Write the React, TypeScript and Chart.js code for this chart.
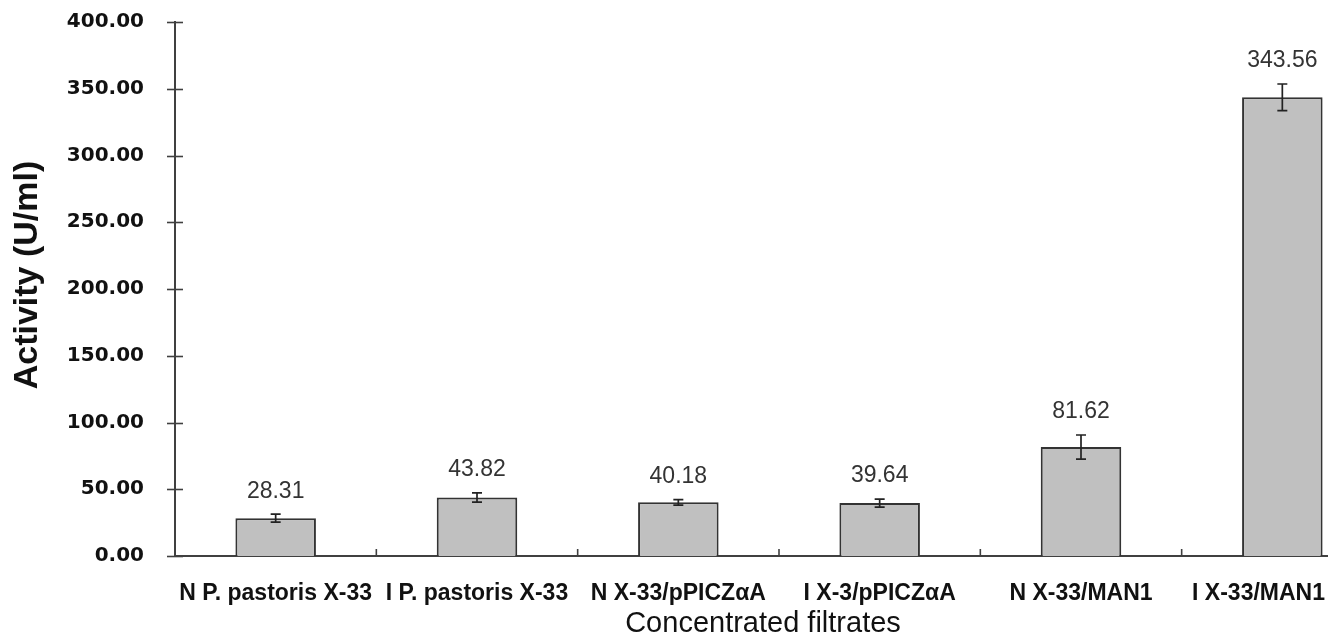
import React, { useEffect, useRef } from "react";
import { Chart, registerables } from "chart.js";

Chart.register(...registerables);

const categories = [
  "N P. pastoris X-33",
  "I P. pastoris X-33",
  "N X-33/pPICZαA",
  "I X-3/pPICZαA",
  "N X-33/MAN1",
  "I X-33/MAN1",
];
const activity = [28.31, 43.82, 40.18, 39.64, 81.62, 343.56];
const errors = [3, 3.5, 2, 3, 9, 10];
const yTicks = [0, 50, 100, 150, 200, 250, 300, 350, 400];

const AXIS = "#404040";
const VISIBLE_WIDTH = 1328;

const decorPlugin = {
  id: "decor",
  afterDatasetsDraw(chart: any) {
    const { ctx, chartArea, scales } = chart;
    const x = scales.x;
    const y = scales.y;
    ctx.save();
    // y ticks crossing the axis
    ctx.strokeStyle = AXIS;
    ctx.lineWidth = 1.6;
    yTicks.forEach((v) => {
      const py = Math.round(y.getPixelForValue(v)) + 0.5;
      ctx.beginPath();
      ctx.moveTo(chartArea.left - 8, py);
      ctx.lineTo(chartArea.left + 8, py);
      ctx.stroke();
    });
    // category boundary ticks
    for (let i = 0; i < categories.length - 1; i++) {
      const px = (x.getPixelForValue(i) + x.getPixelForValue(i + 1)) / 2;
      ctx.beginPath();
      ctx.moveTo(px, chartArea.bottom);
      ctx.lineTo(px, chartArea.bottom - 7);
      ctx.stroke();
    }
    // error bars and value labels
    const meta = chart.getDatasetMeta(0);
    meta.data.forEach((bar: any, i: number) => {
      const v = activity[i];
      const e = errors[i];
      const top = y.getPixelForValue(v + e);
      const bot = y.getPixelForValue(v - e);
      const cx = bar.x;
      ctx.strokeStyle = "#222";
      ctx.lineWidth = 1.7;
      ctx.beginPath();
      ctx.moveTo(cx, top);
      ctx.lineTo(cx, bot);
      ctx.moveTo(cx - 5, top);
      ctx.lineTo(cx + 5, top);
      ctx.moveTo(cx - 5, bot);
      ctx.lineTo(cx + 5, bot);
      ctx.stroke();
      ctx.fillStyle = "#333";
      ctx.font = "23px 'Liberation Sans', Arial, sans-serif";
      ctx.textAlign = "center";
      ctx.textBaseline = "middle";
      ctx.fillText(v.toFixed(2), cx, top - 23);
    });
    // category labels
    ctx.fillStyle = "#111";
    ctx.font = "bold 23px 'Liberation Sans', Arial, sans-serif";
    ctx.textAlign = "center";
    ctx.textBaseline = "middle";
    categories.forEach((label, i) => {
      const w = ctx.measureText(label).width;
      const cx = Math.min(x.getPixelForValue(i), VISIBLE_WIDTH - 3 - w / 2);
      ctx.fillText(label, cx, chartArea.bottom + 38);
    });
    // axis titles
    ctx.font = "29px 'Liberation Sans', Arial, sans-serif";
    const tx = (x.getPixelForValue(2) + x.getPixelForValue(3)) / 2 - 16;
    ctx.fillText("Concentrated filtrates", tx, chartArea.bottom + 68);

    ctx.save();
    ctx.translate(28, (chartArea.top + chartArea.bottom) / 2 - 14);
    ctx.rotate(-Math.PI / 2);
    ctx.font = "bold 34px 'Liberation Sans', Arial, sans-serif";
    ctx.fillText("Activity (U/ml)", 0, 0);
    ctx.restore();
    ctx.restore();
  },
};

export default function App() {
  const ref = useRef<HTMLCanvasElement | null>(null);
  useEffect(() => {
    document.body.style.margin = "0";
    document.body.style.overflow = "hidden";
    const canvas = ref.current;
    if (!canvas) return;
    const chart = new Chart(canvas, {
      type: "bar",
      data: {
        labels: categories,
        datasets: [
          {
            data: activity,
            backgroundColor: "#c0c0c0",
            borderColor: "#333333",
            borderWidth: 2,
            barPercentage: 0.4,
            categoryPercentage: 1,
          },
        ],
      },
      options: {
        responsive: false,
        animation: false,
        devicePixelRatio: 1,
        layout: { padding: { top: 22, right: 7, left: 0, bottom: 0 } },
        plugins: {
          legend: { display: false },
          tooltip: { enabled: false },
        },
        scales: {
          x: {
            grid: { display: false, drawTicks: false },
            border: { display: true, color: AXIS, width: 2 },
            ticks: { display: false },
            afterFit(scale: any) {
              scale.height = 84;
            },
          },
          y: {
            min: 0,
            max: 400,
            grid: { display: false, drawTicks: true, tickLength: 28 },
            border: { display: true, color: AXIS, width: 2 },
            ticks: {
              stepSize: 50,
              color: "#111",
              padding: 3,
              font: { family: "'DejaVu Sans', Verdana, sans-serif", size: 20, weight: "bold" },
              callback: (v: any) => Number(v).toFixed(2),
            },
            afterFit(scale: any) {
              scale.width = 175;
            },
          },
        },
      },
      plugins: [decorPlugin],
    });
    return () => chart.destroy();
  }, []);
  return (
    <div style={{ width: 1390, height: 640 }}>
      <canvas ref={ref} width={1390} height={640} style={{ display: "block" }} />
    </div>
  );
}
